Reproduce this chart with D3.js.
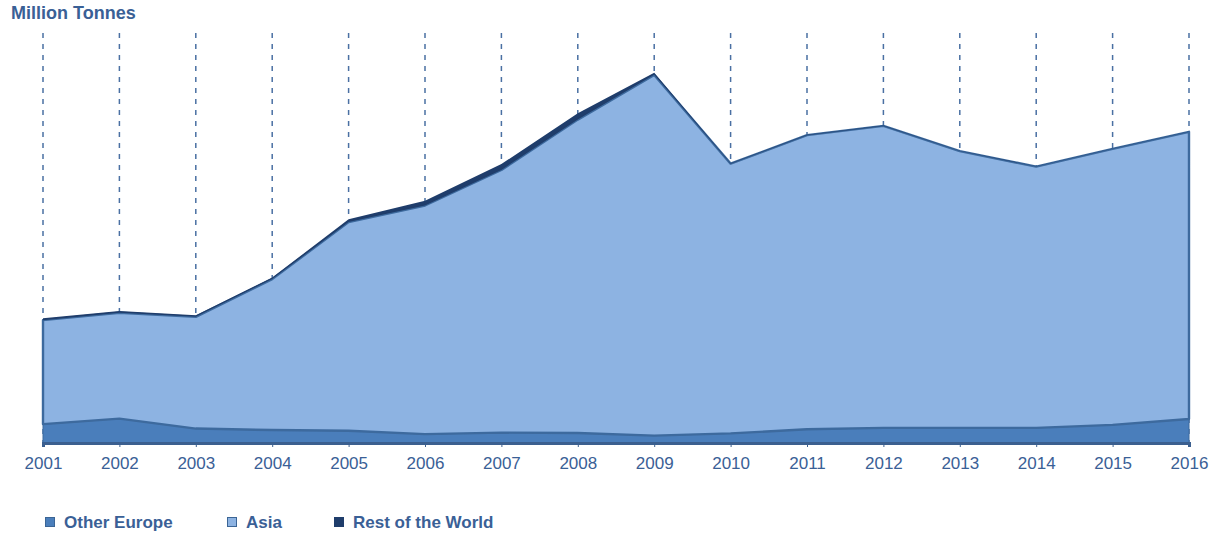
<!DOCTYPE html>
<html><head><meta charset="utf-8">
<script src="https://cdn.jsdelivr.net/npm/d3@7/dist/d3.min.js"></script>
<style>
body{margin:0;background:#fff;}
text{font-family:"Liberation Sans",Arial,sans-serif;}
</style></head>
<body><svg id="c" width="1210" height="534"></svg>
<script>
const years = [2001,2002,2003,2004,2005,2006,2007,2008,2009,2010,2011,2012,2013,2014,2015,2016];
const otherEurope = [5.1,6.6,3.9,3.5,3.3,2.4,2.8,2.7,2.0,2.6,3.7,4.1,4.1,4.1,4.9,6.5];
const asia =        [28.1,28.6,30.2,40.8,56.4,61.8,71.0,84.7,97.5,72.9,79.5,81.6,74.8,70.6,74.6,77.6];
const restOfWorld = [0.5,0.5,0.4,0.4,0.8,1.3,1.6,1.7,0.6,0.1,0.1,0.1,0.1,0.1,0.1,0.1];
const seriesNames = ["Other Europe","Asia","Rest of the World"];
const fills = ["#4a7ebb","#8db3e2","#1f3d6b"];
const strokes = ["#3d6a9e","#3d6a9e","none"];
const unitLabel = "Million Tonnes";

const svg = d3.select("#c");
const x = d3.scaleLinear().domain([2001,2016]).range([43,1189]);
const y = d3.scaleLinear().domain([0,100]).range([443,73]);

const rows = years.map((yr,i)=>({year:yr,"Other Europe":otherEurope[i],"Asia":asia[i],"Rest of the World":restOfWorld[i]}));
const stack = d3.stack().keys(seriesNames)(rows);

// gridlines
svg.append("g").selectAll("line").data(years).join("line")
  .attr("x1",d=>x(d)).attr("x2",d=>x(d))
  .attr("y1",33).attr("y2",443)
  .attr("stroke","#4a70a3").attr("stroke-width",1.5)
  .attr("stroke-dasharray","5,6");

const area = d3.area().x(d=>x(d.data.year)).y0(d=>y(d[0])).y1(d=>y(d[1]));
svg.append("g").selectAll("path").data(stack).join("path")
  .attr("d",area)
  .attr("fill",(d,i)=>fills[i])
  .attr("stroke",(d,i)=>strokes[i])
  .attr("stroke-width",(d,i)=>i===1?2.4:1)
  .attr("stroke-linejoin","round");

// x axis
const ax = svg.append("g").attr("transform","translate(0,443)")
  .call(d3.axisBottom(x).tickValues(years).tickFormat(d3.format("d")).tickSize(4).tickPadding(10));
ax.select(".domain").attr("stroke","#3b5f8f").attr("stroke-width",3);
ax.selectAll(".tick line").attr("stroke","#3b5f8f");
ax.selectAll(".tick text").attr("fill","#3a6096").attr("font-size",17)
  .attr("font-family","'Liberation Sans',Arial,sans-serif");

svg.append("text").attr("x",11).attr("y",19).text(unitLabel)
  .attr("font-size",18).attr("font-weight","bold").attr("fill","#3a6096");

// legend
const legX = [45,227,334];
const lg = svg.append("g").selectAll("g").data(seriesNames).join("g")
  .attr("transform",(d,i)=>`translate(${legX[i]},517)`);
lg.append("rect").attr("width",9).attr("height",9).attr("x",0.5).attr("y",0.5)
  .attr("fill",(d,i)=>fills[i]).attr("stroke",(d,i)=>i===2?"#1f3d6b":"#3b6595").attr("stroke-width",1);
lg.append("text").attr("x",19).attr("y",10.5).text(d=>d)
  .attr("font-size",17).attr("font-weight","bold").attr("fill","#3a6096");
</script></body></html>
